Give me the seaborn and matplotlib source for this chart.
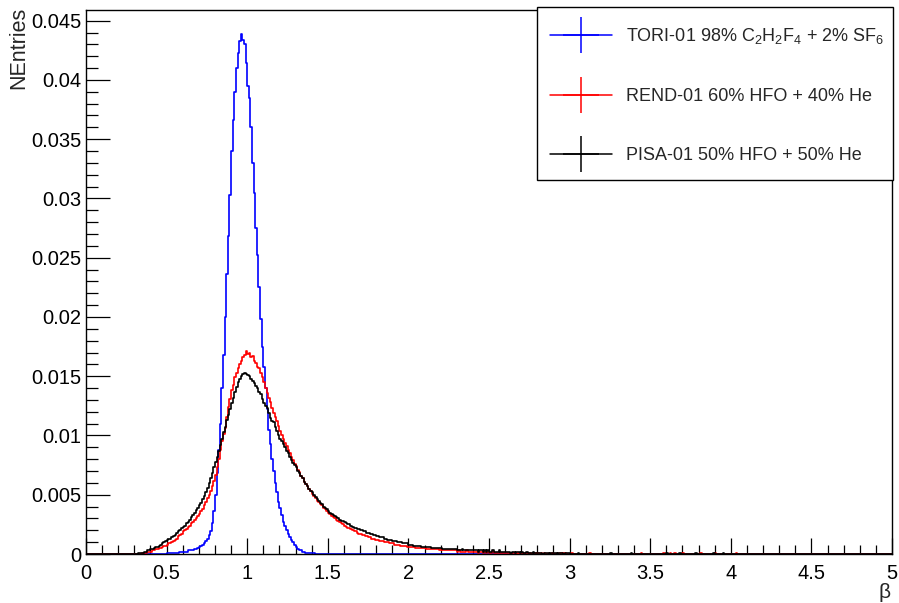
import numpy as np
import pandas as pd
import matplotlib
matplotlib.use("Agg")
import matplotlib.pyplot as plt
import seaborn as sns
from matplotlib.lines import Line2D
from matplotlib.patches import Rectangle
from matplotlib.ticker import MultipleLocator, FuncFormatter, FixedLocator

# ---------------- data (NEntries per 0.01 bin of beta, in units of 1e-4) ----------------
labels = ["TORI-01 98% C$_2$H$_2$F$_4$ + 2% SF$_6$",
          "REND-01 60% HFO + 40% He",
          "PISA-01 50% HFO + 50% He"]
colors = ["#0000ff", "#ff0000", "#000000"]

bin_lo, bin_hi, n_bins = 0.0, 5.0, 500

# TORI-01, bins starting at beta = 0.50
tori_start = 0.50
tori_vals = [1, 1, 1, 1, 1, 1, 1, 1, 2, 2,
             2, 2, 2, 3, 3, 3, 3, 4, 4, 5,
             6, 7, 8, 9, 11, 13, 16, 19, 26, 36,
             50, 68, 88, 110, 140, 168, 200, 236, 268, 303,
             340, 366, 390, 410, 423, 433, 439, 434, 430, 414,
             395, 385, 360, 330, 305, 275, 252, 225, 198, 175,
             158, 140, 122, 105, 93, 80, 70, 60, 52, 44,
             39, 33, 27, 24, 20, 17, 14, 12, 10, 8,
             6, 4, 3, 3, 2, 2, 1, 1, 1, 1,
             1, 1, 0]

# REND-01, bins starting at beta = 0.30
rend_start = 0.30
rend_vals = [0, 0, 0, 0, 0, 1, 1, 1, 2, 2,
             2, 3, 3, 4, 4, 5, 5, 6, 7, 7,
             8, 9, 9, 10, 11, 12, 13, 15, 16, 17,
             19, 20, 21, 23, 24, 26, 27, 29, 30, 32,
             34, 36, 38, 41, 44, 47, 50, 53, 57, 62,
             67, 73, 80, 88, 95, 101, 106, 116, 124, 131,
             138, 143, 149, 153, 157, 160, 163, 166, 168, 171,
             169, 170, 166, 167, 163, 161, 158, 157, 153, 149,
             145, 140, 136, 132, 128, 123, 119, 116, 112, 108,
             104, 100, 97, 94, 91, 88, 85, 82, 79, 76,
             74, 71, 69, 66, 64, 61, 59, 57, 55, 53,
             51, 49, 47, 45, 44, 42, 41, 39, 38, 36,
             35, 34, 32, 31, 30, 29, 28, 27, 26, 25,
             24, 23, 22, 22, 21, 20, 19, 19, 18, 17,
             17, 16, 16, 15, 15, 14, 14, 13, 13, 12,
             12, 12, 11, 11, 11, 10, 10, 10, 9, 9,
             9, 8, 8, 8, 8, 7, 7, 7, 7, 6,
             6, 6, 6, 6, 5, 5, 5, 5, 5, 5,
             5, 4, 4, 4, 4, 4, 4, 4, 4, 3,
             4, 3, 3, 3, 3, 3, 3, 3, 3, 3,
             2, 3, 2, 2, 2, 2, 3, 2, 2, 2,
             2, 2, 2, 1, 2, 2, 1, 2, 1, 2,
             1, 1, 2, 1, 1, 1, 1, 1, 1, 1,
             1, 1, 1, 0, 1, 1, 1, 0, 1, 1,
             1, 0, 1, 1, 0, 1, 0, 1, 1, 0,
             1, 0, 1, 0, 1, 0, 0, 1, 0, 1,
             0, 0, 1, 0, 1, 0, 1, 1, 0, 0]
rend_tail_beta = [3.01, 3.12, 3.44, 3.58, 3.62, 3.65, 3.70, 3.81, 3.90, 4.03]
rend_tail_vals = [1, 1, 1, 1, 1, 1, 1, 1, 1, 1]

# PISA-01, bins starting at beta = 0.30
pisa_start = 0.30
pisa_vals = [0, 0, 1, 1, 1, 1, 2, 2, 3, 3,
             4, 4, 5, 6, 6, 7, 8, 9, 10, 11,
             12, 13, 13, 14, 15, 16, 18, 19, 20, 22,
             23, 24, 26, 27, 29, 31, 33, 35, 37, 39,
             41, 43, 46, 49, 52, 56, 60, 64, 68, 73,
             78, 82, 87, 92, 97, 103, 107, 113, 117, 122,
             127, 132, 137, 141, 145, 148, 150, 152, 153, 152,
             151, 150, 148, 146, 144, 142, 140, 137, 135, 131,
             127, 125, 123, 119, 115, 112, 111, 107, 104, 100,
             97, 95, 93, 90, 87, 85, 82, 79, 77, 75,
             73, 70, 68, 66, 64, 61, 59, 57, 55, 53,
             52, 50, 48, 46, 45, 43, 42, 40, 39, 38,
             36, 35, 34, 33, 32, 31, 30, 29, 28, 28,
             27, 26, 25, 25, 24, 23, 22, 22, 21, 21,
             20, 20, 19, 19, 18, 18, 17, 17, 16, 16,
             15, 15, 14, 14, 14, 13, 13, 12, 12, 12,
             11, 11, 11, 10, 10, 10, 9, 9, 9, 9,
             8, 8, 8, 7, 7, 7, 7, 7, 6, 6,
             6, 6, 6, 6, 5, 5, 5, 5, 5, 5,
             5, 4, 4, 4, 4, 4, 4, 4, 4, 4,
             3, 3, 3, 4, 3, 3, 3, 3, 3, 3,
             3, 3, 3, 2, 3, 3, 2, 3, 2, 3,
             2, 2, 3, 2, 2, 2, 3, 2, 2, 2,
             2, 2, 2, 1, 2, 2, 1, 2, 2, 1,
             2, 1, 1, 2, 1, 1, 1, 2, 1, 1,
             1, 1, 1, 0, 1, 1, 1, 0, 1, 1,
             1, 1, 0, 1, 1, 1, 0, 1, 1, 1]
pisa_tail_beta = [3.05, 3.25, 3.38, 3.60, 3.68, 3.78, 3.89, 3.95]
pisa_tail_vals = [1, 1, 1, 1, 1, 1, 1, 1]

x_major_ticks = [0, 0.5, 1, 1.5, 2, 2.5, 3, 3.5, 4, 4.5, 5]
y_major_ticks = [0, 0.005, 0.01, 0.015, 0.02, 0.025, 0.03, 0.035, 0.04, 0.045]

# ---------------- build full histograms ----------------
width = (bin_hi - bin_lo) / n_bins
centers = bin_lo + width * (np.arange(n_bins) + 0.5)


def full_hist(start, vals, tail_beta=(), tail_vals=()):
    h = np.zeros(n_bins)
    i0 = int(round((start - bin_lo) / width))
    h[i0:i0 + len(vals)] = vals
    for b, v in zip(tail_beta, tail_vals):
        h[int(round((b - bin_lo) / width))] = v
    return h * 1e-4


hists = [full_hist(tori_start, tori_vals),
         full_hist(rend_start, rend_vals, rend_tail_beta, rend_tail_vals),
         full_hist(pisa_start, pisa_vals, pisa_tail_beta, pisa_tail_vals)]

frames = [pd.DataFrame({"beta": centers, "w": h}) for h in hists]

# ---------------- plotting ----------------
sns.set_theme(style="white")
plt.rcParams['font.family'] = ['Liberation Sans', 'DejaVu Sans']
plt.rcParams['mathtext.fontset'] = 'custom'
plt.rcParams['mathtext.rm'] = 'Liberation Sans'
plt.rcParams['mathtext.it'] = 'Liberation Sans:italic'
plt.rcParams['mathtext.bf'] = 'Liberation Sans:bold'
plt.rcParams['mathtext.default'] = 'rm'

W, H = 899, 603
fig = plt.figure(figsize=(W / 100, H / 100), dpi=100)
ax = fig.add_axes([86 / W, 1 - 554 / H, (892 - 86) / W, (554 - 10) / H])

for sub, col in zip(frames, colors):
    sns.histplot(data=sub, x="beta", weights="w", bins=n_bins, binrange=(bin_lo, bin_hi),
                 element="step", fill=False, color=col, linewidth=1.2, ax=ax)

ax.set_xlim(0, 5)
ax.set_ylim(0, 0.0459)
ax.set_xlabel("")
ax.set_ylabel("")

fmt = FuncFormatter(lambda v, _: f"{v:g}")
ax.xaxis.set_major_locator(FixedLocator(x_major_ticks))
ax.xaxis.set_minor_locator(MultipleLocator(0.1))
ax.yaxis.set_major_locator(FixedLocator(y_major_ticks))
ax.yaxis.set_minor_locator(MultipleLocator(0.001))
ax.xaxis.set_major_formatter(fmt)
ax.yaxis.set_major_formatter(fmt)

ax.tick_params(axis="both", which="both", direction="in", bottom=True, left=True,
               top=False, right=False, colors="black", labelsize=14.5, width=0.9)
ax.tick_params(axis="y", which="major", length=17, pad=3.5)
ax.tick_params(axis="y", which="minor", length=8.5)
ax.tick_params(axis="x", which="major", length=11.5, pad=7)
ax.tick_params(axis="x", which="minor", length=6.5)
for s in ax.spines.values():
    s.set_color("black")
    s.set_linewidth(1.0)

fig.text(19 / W, 1 - 7 / H, "NEntries", rotation=90, ha="center", va="top", fontsize=15.5)
fig.text(885 / W, 1 - 592 / H, "β", ha="center", va="center", fontsize=15)

# legend frame (fixed box) and entries
ax.add_patch(Rectangle((537 / W, 1 - 180 / H), (893 - 537) / W, (180 - 7) / H,
                       transform=fig.transFigure, clip_on=False, fill=True,
                       facecolor="white", edgecolor="black", linewidth=1.0, zorder=5))
handles = [Line2D([], [], color=c, lw=1.1, marker="+", markersize=26, markeredgewidth=1.1)
           for c in colors]
leg = ax.legend(handles, labels, loc="upper left",
                bbox_to_anchor=(550 / W, 1 - 26 / H), bbox_transform=fig.transFigure,
                frameon=False, borderaxespad=0, borderpad=0, handlelength=3.43,
                handletextpad=0.78, labelspacing=2.33, fontsize=13)
leg.set_zorder(6)

fig.savefig("out.png", dpi=100)
